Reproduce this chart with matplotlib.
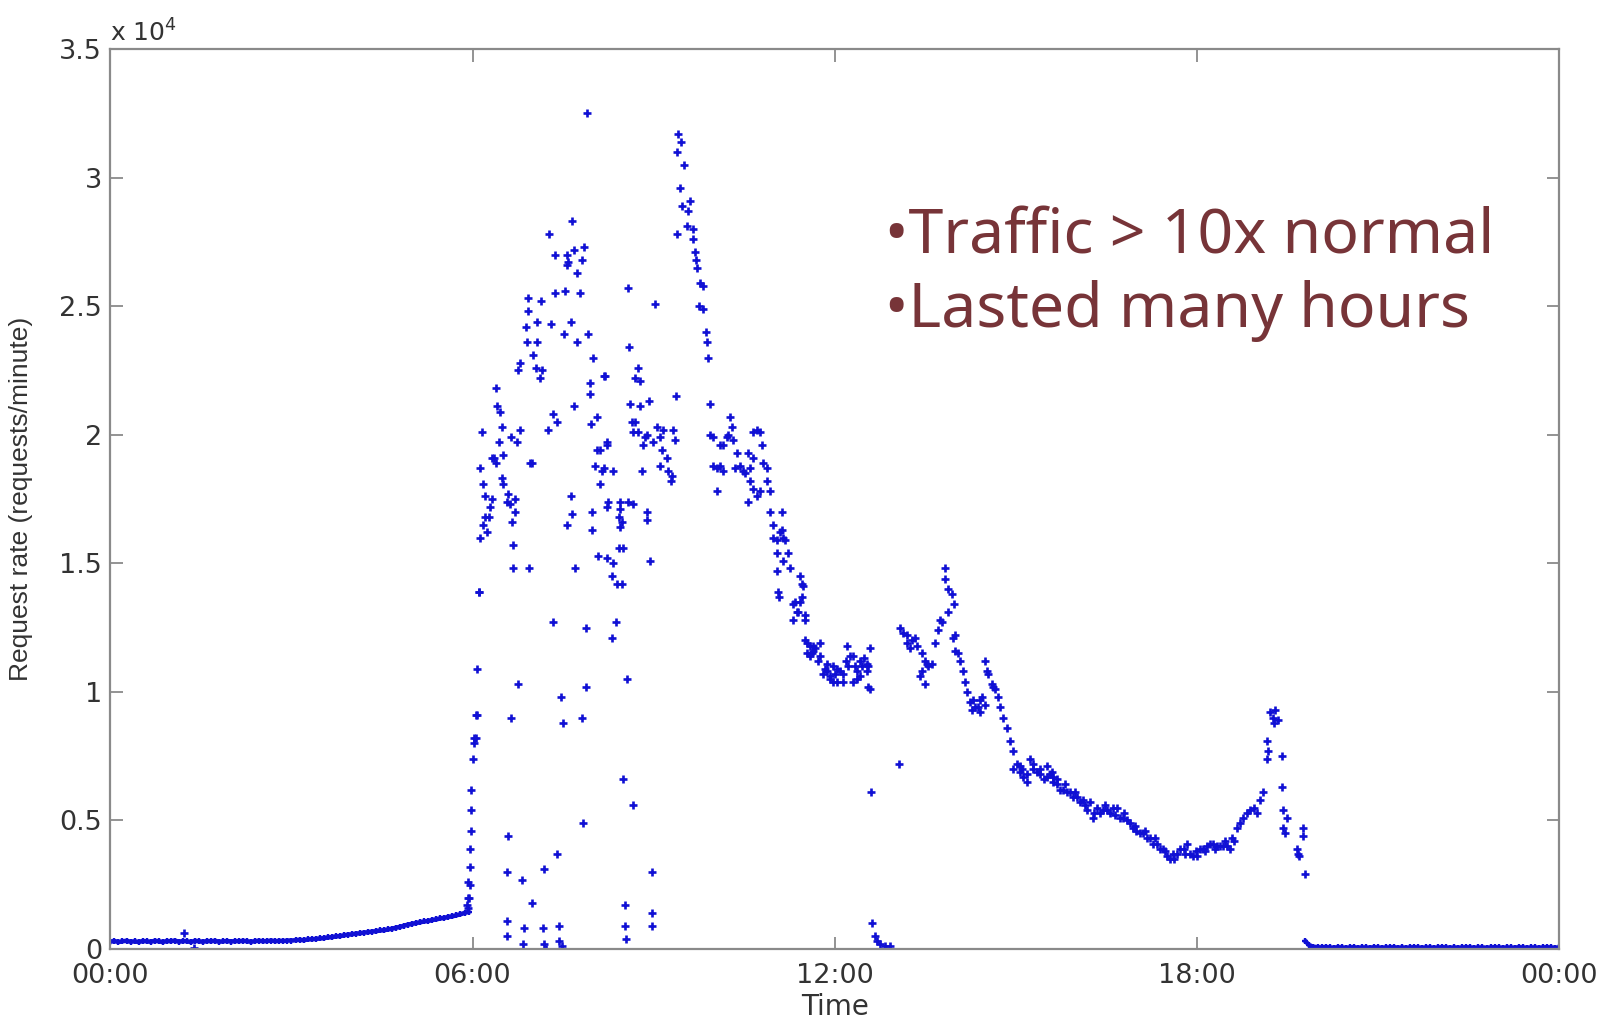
import matplotlib.pyplot as plt

# request rate in units of 10^4 requests/minute, time in hours since 00:00

# overnight baseline, one sample every 4 minutes from 00:00
night_rate = [
    0.029, 0.031, 0.027, 0.030, 0.032, 0.028, 0.030, 0.027, 0.031, 0.030, 0.028, 0.032, 0.030, 0.027, 0.031,
    0.030, 0.033, 0.028, 0.031, 0.030, 0.027, 0.032, 0.030, 0.028, 0.031, 0.030, 0.032, 0.028, 0.030, 0.031,
    0.029, 0.031, 0.030, 0.032, 0.030, 0.028, 0.031, 0.032, 0.030, 0.031, 0.033, 0.030, 0.032, 0.031, 0.033,
    0.033, 0.034, 0.036, 0.034, 0.037, 0.038, 0.039, 0.041, 0.042, 0.045, 0.046, 0.049, 0.050, 0.053, 0.056,
    0.057, 0.060, 0.061, 0.064, 0.065, 0.068, 0.069, 0.072, 0.073, 0.076, 0.079, 0.083, 0.086, 0.091, 0.095,
    0.098, 0.101, 0.104, 0.107, 0.109, 0.113, 0.115, 0.119, 0.121, 0.125, 0.127, 0.131, 0.135, 0.140, 0.145,
]
night_step = 4 / 60

# stray samples during the night
night_strays = [(1.22, 0.063), (1.38, 0.004)]

# the surge: 06:00 to about 11:40
surge_pts = [
    (5.90, 0.17), (5.92, 0.20), (5.93, 0.26), (5.93, 0.16), (5.94, 0.20), (5.95, 0.25), (5.95, 0.32),
    (5.96, 0.39), (5.97, 0.46), (5.98, 0.54), (5.98, 0.62), (6.00, 0.74), (6.02, 0.80), (6.03, 0.82),
    (6.05, 0.91), (6.07, 1.09), (6.10, 1.39),
    (6.13, 1.60), (6.16, 2.01), (6.13, 1.87), (6.18, 1.81), (6.21, 1.76), (6.32, 1.75), (6.29, 1.72),
    (6.21, 1.68), (6.18, 1.65), (6.24, 1.62), (6.32, 1.91), (6.39, 1.89), (6.44, 1.97), (6.50, 1.92),
    (6.49, 1.83), (6.50, 1.81), (6.39, 2.18), (6.41, 2.11), (6.46, 2.09), (6.49, 2.03), (6.59, 1.77),
    (6.57, 1.74), (6.71, 1.75), (6.71, 1.70), (6.67, 1.57), (6.67, 1.48), (6.64, 1.99), (6.79, 2.02),
    (6.74, 1.97), (6.75, 2.25), (6.78, 2.28), (6.62, 1.73), (6.65, 1.66), (6.27, 1.68), (6.35, 1.91),
    (6.93, 1.48), (6.95, 1.89), (6.98, 1.89), (6.89, 2.42), (6.90, 2.36), (6.92, 2.53), (6.92, 2.48),
    (7.00, 2.31), (7.05, 2.26), (7.07, 2.44), (7.07, 2.36), (7.12, 2.22), (7.13, 2.52), (7.15, 2.25),
    (7.25, 2.02), (7.27, 2.78), (7.30, 2.43), (7.33, 2.08), (7.37, 2.70), (7.37, 2.55), (7.40, 2.05),
    (7.52, 2.39), (7.53, 2.56), (7.56, 2.70), (7.56, 2.66), (7.58, 2.67), (7.63, 2.44), (7.65, 2.83),
    (7.68, 2.72), (7.68, 2.11), (7.73, 2.63), (7.73, 2.36), (7.78, 2.55), (7.82, 2.68), (7.85, 2.73),
    (7.89, 3.25), (7.92, 2.39), (7.95, 2.20), (7.95, 2.16), (7.96, 2.04), (8.00, 2.30), (8.06, 2.07),
    (8.18, 2.23), (8.20, 2.23), (7.63, 1.76), (7.65, 1.69), (7.70, 1.48), (7.56, 1.65), (7.98, 1.70),
    (7.98, 1.63), (8.03, 1.88), (8.06, 1.94), (8.11, 1.81), (8.11, 1.94), (8.14, 1.86), (8.17, 1.87),
    (8.22, 1.97), (8.23, 1.96), (8.23, 1.72), (8.25, 1.74), (8.33, 1.86), (8.08, 1.53), (8.22, 1.52),
    (8.33, 1.50), (8.31, 1.45), (8.39, 1.42), (8.42, 1.68), (8.43, 1.56), (8.44, 1.74), (8.44, 1.71),
    (8.44, 1.64), (8.47, 1.66), (8.48, 1.42), (8.49, 1.56), (8.58, 1.74), (8.66, 1.73), (8.58, 2.57),
    (8.59, 2.34), (8.61, 2.12), (8.64, 2.05), (8.66, 2.01), (8.69, 2.22), (8.69, 2.05), (8.74, 2.26),
    (8.77, 2.21), (8.74, 2.01), (8.77, 2.11), (8.82, 1.96), (8.86, 1.99), (8.89, 2.00), (8.93, 2.13),
    (8.81, 1.86), (8.89, 1.70), (8.89, 1.67), (8.94, 1.51), (8.99, 1.97), (9.03, 2.51), (9.06, 2.03),
    (9.11, 1.99), (9.11, 1.88), (9.14, 1.94), (9.16, 2.02), (9.22, 1.91), (9.24, 1.86), (9.29, 1.82),
    (9.31, 1.84), (9.32, 2.02), (9.36, 1.98), (9.37, 2.15),
    (9.40, 3.17), (9.45, 3.14), (9.39, 3.10), (9.50, 3.05), (9.44, 2.96), (9.47, 2.89), (9.57, 2.87),
    (9.60, 2.91), (9.55, 2.81), (9.65, 2.80), (9.39, 2.78), (9.65, 2.76), (9.68, 2.71), (9.70, 2.68),
    (9.72, 2.65), (9.77, 2.59), (9.82, 2.58), (9.75, 2.50), (9.82, 2.49), (9.87, 2.40), (9.88, 2.36),
    (9.90, 2.30),
    (9.93, 2.12), (9.94, 2.00), (9.98, 1.99), (9.98, 1.88), (10.05, 1.87), (10.05, 1.78), (10.10, 1.96),
    (10.10, 1.88), (10.15, 1.96), (10.15, 1.86), (10.22, 1.99), (10.23, 2.00), (10.27, 2.07), (10.30, 2.03),
    (10.32, 1.98), (10.35, 1.87), (10.38, 1.93), (10.43, 1.88), (10.48, 1.86), (10.51, 1.85), (10.56, 1.93),
    (10.56, 1.74), (10.60, 1.82), (10.60, 1.87), (10.65, 2.01), (10.65, 1.91), (10.65, 1.79), (10.71, 2.02),
    (10.71, 1.76), (10.76, 2.01), (10.76, 1.78), (10.80, 1.96), (10.81, 1.89), (10.88, 1.87), (10.88, 1.82),
    (10.93, 1.78),
    (10.93, 1.70), (10.98, 1.65), (10.98, 1.60), (11.04, 1.59), (11.04, 1.54), (11.04, 1.47), (11.06, 1.39),
    (11.08, 1.37), (11.10, 1.62), (11.13, 1.70), (11.13, 1.63), (11.14, 1.51), (11.15, 1.60), (11.18, 1.59),
    (11.23, 1.54), (11.26, 1.48), (11.31, 1.34), (11.31, 1.28), (11.34, 1.35), (11.38, 1.31), (11.39, 1.31),
    (11.43, 1.35), (11.43, 1.45), (11.46, 1.42), (11.46, 1.37), (11.48, 1.41), (11.51, 1.30), (11.51, 1.28),
    (11.51, 1.20), (11.54, 1.15), (11.59, 1.18), (11.64, 1.16),
    # scattered low readings during the surge
    (6.10, 1.39), (6.07, 0.91), (6.05, 0.82), (6.63, 0.90), (6.75, 1.03), (6.59, 0.44), (6.57, 0.30),
    (6.82, 0.27), (6.98, 0.18), (6.57, 0.11), (6.85, 0.08), (6.57, 0.05), (6.84, 0.02), (7.18, 0.31),
    (7.17, 0.08), (7.19, 0.02), (7.22, 0.00), (7.33, 1.27), (7.40, 0.37), (7.43, 0.09), (7.44, 0.03),
    (7.48, 0.01), (7.46, 0.98), (7.50, 0.88), (7.81, 0.90), (7.83, 0.49), (7.88, 1.25), (7.88, 1.02),
    (8.31, 1.21), (8.38, 1.27), (8.49, 0.66), (8.53, 0.17), (8.53, 0.09), (8.54, 0.04), (8.56, 1.05),
    (8.66, 0.56), (8.97, 0.30), (8.97, 0.14), (8.97, 0.09),
]

# midday to the evening drop-out
day_pts = [
    (11.54, 1.19), (11.62, 1.15), (11.64, 1.18), (11.59, 1.14), (11.76, 1.19), (11.76, 1.14), (11.81, 1.07),
    (11.87, 1.11), (11.87, 1.08), (11.92, 1.05), (11.92, 1.06), (11.97, 1.10), (11.97, 1.04), (12.04, 1.04),
    (12.04, 1.09), (12.09, 1.08), (12.14, 1.07), (12.14, 1.04), (12.20, 1.18), (12.22, 1.10), (12.25, 1.14),
    (12.30, 1.14), (12.30, 1.04), (12.37, 1.08), (12.37, 1.05), (12.42, 1.12), (12.42, 1.06), (12.45, 1.10),
    (12.54, 1.11), (12.54, 1.08), (12.55, 1.10), (12.55, 1.02), (12.59, 1.17), (12.59, 1.01),
    (11.68, 1.17), (11.72, 1.12), (11.84, 1.09), (12.00, 1.07), (12.18, 1.12), (12.34, 1.10), (12.48, 1.13),
    (12.60, 0.61), (12.62, 0.10), (12.67, 0.05), (12.70, 0.03), (12.75, 0.02), (12.84, 0.01), (12.92, 0.01),
    (13.07, 0.72),
    (13.08, 1.25), (13.13, 1.23), (13.20, 1.22), (13.20, 1.19), (13.25, 1.17), (13.28, 1.20), (13.33, 1.21),
    (13.36, 1.18), (13.41, 1.06), (13.45, 1.15), (13.45, 1.08), (13.50, 1.12), (13.50, 1.03), (13.53, 1.11),
    (13.55, 1.10), (13.61, 1.11), (13.66, 1.19), (13.71, 1.24), (13.75, 1.28), (13.78, 1.27),
    (13.83, 1.48), (13.83, 1.44), (13.87, 1.31), (13.88, 1.40), (13.95, 1.38), (13.97, 1.34), (13.96, 1.21),
    (13.99, 1.22), (13.99, 1.16), (14.04, 1.15), (14.08, 1.12), (14.13, 1.08), (14.16, 1.04), (14.19, 1.00),
    (14.24, 0.96), (14.28, 0.93), (14.29, 0.97), (14.33, 0.94), (14.37, 0.94), (14.41, 0.97), (14.41, 0.92),
    (14.44, 0.98), (14.49, 0.95), (14.49, 1.12), (14.52, 1.08), (14.54, 1.07), (14.61, 1.03), (14.62, 1.02),
    (14.66, 1.01), (14.71, 0.98), (14.74, 0.94), (14.79, 0.90), (14.86, 0.86), (14.91, 0.81), (14.96, 0.77),
    (14.96, 0.70), (15.02, 0.72), (15.07, 0.69), (15.07, 0.71), (15.12, 0.67), (15.19, 0.65), (15.19, 0.68),
    (15.24, 0.74), (15.29, 0.72), (15.29, 0.70), (15.40, 0.70), (15.40, 0.68), (15.52, 0.67), (15.52, 0.71),
    (15.57, 0.68), (15.62, 0.65), (15.62, 0.67), (15.68, 0.66), (15.68, 0.64), (15.74, 0.62), (15.79, 0.62),
    (15.85, 0.61), (15.90, 0.61), (15.95, 0.59), (16.01, 0.59), (16.06, 0.57), (16.12, 0.58), (16.18, 0.54),
    (16.23, 0.57), (16.28, 0.51), (16.34, 0.55), (16.40, 0.53), (16.45, 0.54), (16.51, 0.54), (16.56, 0.53),
    (16.61, 0.55), (16.67, 0.55), (16.73, 0.51), (16.78, 0.51), (16.84, 0.50), (16.89, 0.49), (16.94, 0.47),
    (17.00, 0.46), (17.06, 0.45), (17.11, 0.45), (17.17, 0.43), (17.23, 0.43), (17.27, 0.41), (17.34, 0.41),
    (17.39, 0.39), (17.44, 0.39), (17.50, 0.36), (17.56, 0.35), (17.60, 0.37), (17.67, 0.37), (17.72, 0.39),
    (17.78, 0.39), (17.84, 0.41), (17.89, 0.37), (17.94, 0.36), (18.00, 0.36), (18.05, 0.39), (18.11, 0.39),
    (18.17, 0.40), (18.22, 0.41), (18.27, 0.41), (18.33, 0.40), (18.38, 0.40), (18.44, 0.40), (18.50, 0.40),
    (18.55, 0.39), (18.61, 0.42), (18.67, 0.47), (18.77, 0.51), (18.88, 0.54), (19.00, 0.53), (19.05, 0.58),
    (19.10, 0.61),
    # second strand of the afternoon band
    (15.10, 0.70), (15.35, 0.69), (15.46, 0.66), (15.60, 0.69), (15.82, 0.64), (15.98, 0.61), (16.15, 0.56),
    (16.30, 0.53), (16.48, 0.56), (16.64, 0.52), (16.80, 0.53), (16.98, 0.48), (17.14, 0.46), (17.30, 0.43),
    (17.47, 0.38), (17.63, 0.35), (17.81, 0.37), (17.98, 0.38), (18.14, 0.38), (18.30, 0.39), (18.47, 0.42),
    (18.58, 0.43), (18.72, 0.49), (18.83, 0.53), (18.95, 0.55),
    (19.16, 0.74), (19.18, 0.77), (19.16, 0.81), (19.21, 0.92), (19.26, 0.90), (19.28, 0.88), (19.30, 0.93),
    (19.35, 0.89), (19.41, 0.75), (19.41, 0.63), (19.43, 0.54), (19.43, 0.47), (19.46, 0.45), (19.50, 0.51),
    (19.66, 0.39), (19.68, 0.37), (19.70, 0.36), (19.76, 0.47), (19.76, 0.44), (19.79, 0.29),
]

# after the drop-out, one sample every 4 minutes from 19:48 to 24:00
tail_start = 19.80
tail_rate = [
    0.030, 0.014, 0.009, 0.007, 0.006, 0.008, 0.006, 0.005, 0.007, 0.006, 0.005, 0.006, 0.007, 0.005, 0.006, 0.006,
    0.005, 0.007, 0.006, 0.005, 0.006, 0.006, 0.007, 0.005, 0.006, 0.005, 0.006, 0.007, 0.006, 0.005, 0.006, 0.006,
    0.005, 0.006, 0.007, 0.006, 0.005, 0.006, 0.005, 0.006, 0.007, 0.006, 0.005, 0.006, 0.006, 0.005, 0.006, 0.007,
    0.006, 0.005, 0.006, 0.006, 0.005, 0.007, 0.006, 0.005, 0.006, 0.006, 0.005, 0.006, 0.007, 0.006, 0.005, 0.006,
]
tail_step = 4 / 60

x_ticks = [0, 6, 12, 18, 24]
x_tick_labels = ['00:00', '06:00', '12:00', '18:00', '00:00']
y_ticks = [0, 0.5, 1, 1.5, 2, 2.5, 3, 3.5]
y_tick_labels = ['0', '0.5', '1', '1.5', '2', '2.5', '3', '3.5']

notes = ['\u2022Traffic > 10x normal', '\u2022Lasted many hours']

night_hours = [i * night_step for i in range(len(night_rate))]
tail_hours = [tail_start + i * tail_step for i in range(len(tail_rate))]

hours = []
rates = []
for pts in (night_strays, surge_pts, day_pts):
    hours += [p[0] for p in pts]
    rates += [p[1] for p in pts]

fig = plt.figure(figsize=(16.05, 10.19), dpi=100)
ax = fig.add_axes([0.0688, 0.0687, 0.9025, 0.8832])

blue = '#1010d4'
# the regularly sampled quiet periods are dense enough to read as a band
ax.plot(night_hours, night_rate, '-', lw=3.2, color=blue, marker='+', ms=5, mew=1.7)
ax.plot(tail_hours, tail_rate, '-', lw=3.2, color=blue, marker='+', ms=5, mew=1.7)
ax.plot(hours, rates, linestyle='none', marker='+', ms=5.2, mew=1.9, color=blue)

ax.set_xlim(0, 24)
ax.set_ylim(0, 3.5)
ax.set_xticks(x_ticks)
ax.set_xticklabels(x_tick_labels)
ax.set_yticks(y_ticks)
ax.set_yticklabels(y_tick_labels)

gray = '#8a8a8a'
for s in ax.spines.values():
    s.set_color(gray)
    s.set_linewidth(1.6)
ax.tick_params(direction='in', length=9, width=1.3, color=gray,
               top=True, right=True, labelsize=19.5, labelcolor='#333333',
               labelfontfamily='DejaVu Sans')
ax.tick_params(axis='x', pad=10)
ax.tick_params(axis='y', pad=6)

ax.set_xlabel('Time', fontsize=20, color='#333333', family='DejaVu Sans')
ax.xaxis.set_label_coords(0.5, -0.049)
ax.set_ylabel('Request rate (requests/minute)', fontsize=19, color='#333333',
              family='Liberation Sans')
ax.yaxis.set_label_coords(-0.0535, 0.5)

ax.text(0.0, 1.008, 'x 10$^{4}$', transform=ax.transAxes, ha='left', va='baseline',
        fontsize=18, color='#333333', family='DejaVu Sans')

ax.text(0.5345, 0.7733, notes[0], transform=ax.transAxes, ha='left', va='baseline',
        fontsize=45, color='#773438', family='Noto Sans')
ax.text(0.5345, 0.6906, notes[1], transform=ax.transAxes, ha='left', va='baseline',
        fontsize=45, color='#773438', family='Noto Sans')

fig.savefig('out.png', dpi=100)
